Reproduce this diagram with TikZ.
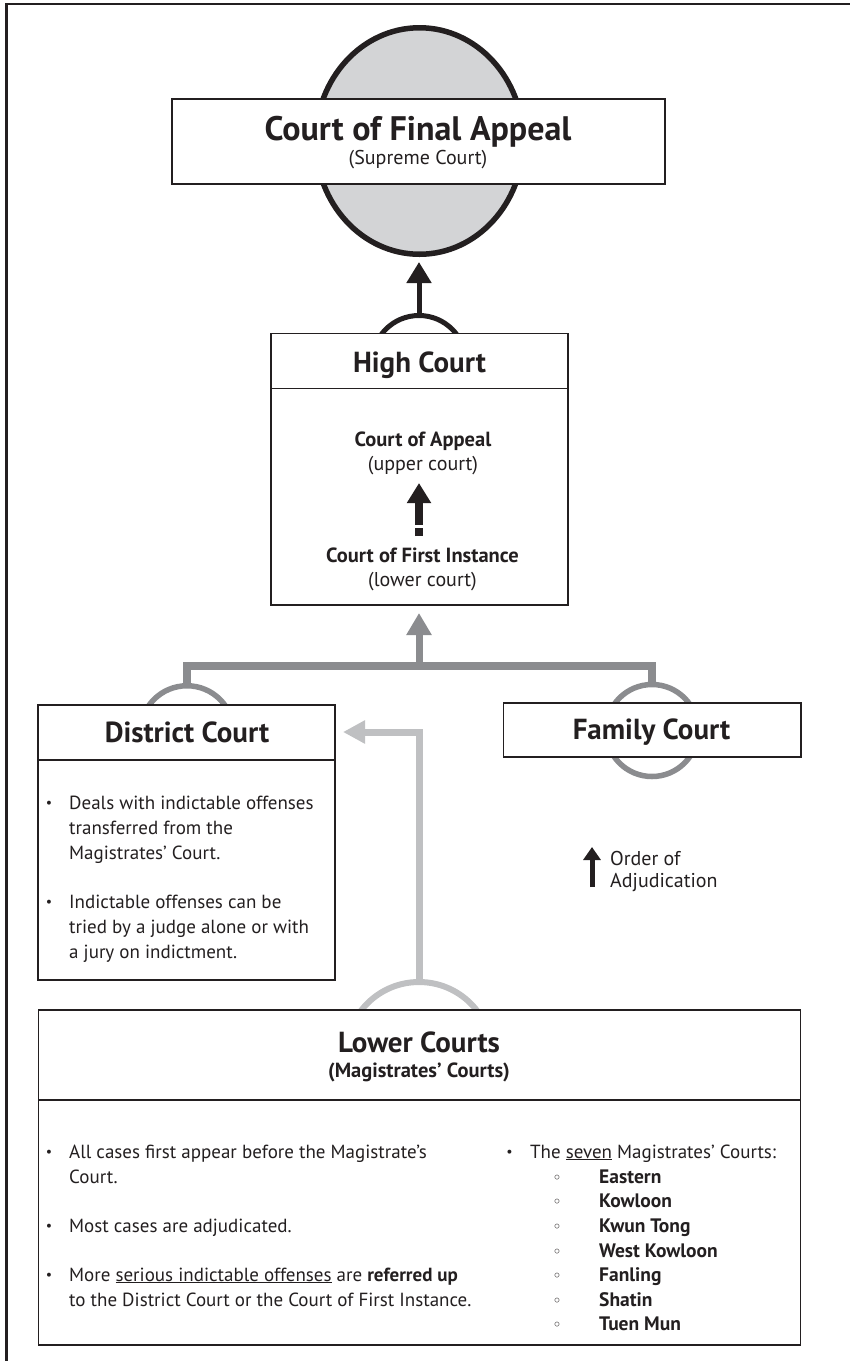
\documentclass[tikz,border=0pt]{standalone}
\usepackage{fontspec}
\setmainfont{PT Sans}
\newfontfamily\symfont{DejaVu Sans}
\usetikzlibrary{arrows.meta,shapes.geometric}
\definecolor{ink}{HTML}{231F20}
\definecolor{midgray}{HTML}{8B8C8F}
\definecolor{lightgraytwo}{HTML}{BFC0C2}
\definecolor{ellfill}{HTML}{D3D4D6}
\begin{document}
\begin{tikzpicture}[x=1pt,y=-1pt,
  box/.style={draw=ink, line width=1.4pt, fill=white, rectangle, inner sep=0pt, outer sep=0pt},
  ring/.style={circle, inner sep=0pt, fill=none},
  headtxt/.style={font=\fontsize{29}{32}\selectfont\bfseries, text=ink, anchor=base, inner sep=0pt},
  subtxt/.style={font=\fontsize{20}{24}\selectfont, text=ink, anchor=base, inner sep=0pt},
  subbold/.style={font=\fontsize{20.5}{24}\selectfont\bfseries, text=ink, anchor=base, inner sep=0pt},
  body/.style={font=\fontsize{19}{24.7}\selectfont, text=ink, anchor=base west, inner sep=0pt},
  bodybold/.style={font=\fontsize{19.5}{24.7}\selectfont\bfseries, text=ink, anchor=base west, inner sep=0pt},
  bul/.style={font=\fontsize{14}{24.7}\selectfont, text=ink, anchor=base, inner sep=0pt},
  sbul/.style={font=\fontsize{16}{24.7}\selectfont\symfont, text=ink, anchor=base, inner sep=0pt},
]
\useasboundingbox (0,0) rectangle (850,1361);
% frame
\draw[ink, line width=2.6pt] (6.3,1361) -- (6.3,4) -- (850,4);

% rings
\node[ellipse, draw=ink, fill=ellfill, line width=5.5pt, minimum width=207.5pt, minimum height=226.5pt, inner sep=0pt] (cfae) at (419.5,141) {};
\node[ring, draw=ink, line width=5pt, minimum size=94pt] (hcc) at (419,362.5) {};
\node[ring, draw=midgray, line width=5.5pt, minimum size=93.5pt] (dcc) at (187,732.5) {};
\node[ring, draw=midgray, line width=5.5pt, minimum size=92pt] (fcc) at (652,730.5) {};
\node[ring, draw=lightgraytwo, line width=6pt, minimum size=146pt] (lcc) at (419,1055) {};

% boxes
\node[box, minimum width=493pt, minimum height=85pt] (cfab) at (418.5,141.5) {};
\node[box, minimum width=297pt, minimum height=271.5pt] (hcb) at (419.5,469.25) {};
\node[box, minimum width=297pt, minimum height=275pt] (dcb) at (186.5,842.5) {};
\node[box, minimum width=297.5pt, minimum height=54pt] (fcb) at (652.25,730) {};
\node[box, minimum width=762pt, minimum height=335pt] (lcb) at (419.5,1177.5) {};

% dividers
\coordinate (hdiv) at (0,388.5);
\coordinate (ddiv) at (0,760);
\coordinate (ldiv) at (0,1100);
\draw[ink, line width=1.4pt] (hcb.west |- hdiv) -- (hcb.east |- hdiv);
\draw[ink, line width=1.4pt] (dcb.west |- ddiv) -- (dcb.east |- ddiv);
\draw[ink, line width=1.4pt] (lcb.west |- ldiv) -- (lcb.east |- ldiv);

% connectors
\draw[ink, line width=5pt, -{Triangle[width=24pt,length=21pt]}, shorten >=5pt] (hcc.north) -- (hcc.north |- cfae.south);
\coordinate (jn) at (419,666);
\draw[midgray, line width=7.5pt, line join=miter] (dcc.north) |- (jn) -| (fcc.north);
\draw[midgray, line width=7pt, -{Triangle[width=24pt,length=22pt]}, shorten >=8pt] (jn) -- (jn |- hcb.south);
\coordinate (lgturn) at (419,732);
\draw[lightgraytwo, line width=7pt, line join=miter, -{Triangle[width=22pt,length=22pt]}, shorten >=8pt] (lcc.north) -- (lgturn) -- (lgturn -| dcb.east);
% inner dashed arrow
\coordinate (hab) at (419,536);
\coordinate (hat) at (419,483);
\draw[ink, line width=7.7pt, dash pattern=on 8pt off 3pt on 60pt, -{Triangle[width=23pt,length=20pt]}] (hab) -- (hat);
% legend arrow
\coordinate (ob) at (592,887);
\coordinate (ot) at (592,847);
\draw[ink, line width=5pt, -{Triangle[width=17pt,length=13pt]}] (ob) -- (ot);

% texts
\node[headtxt, font=\fontsize{34}{38}\selectfont\bfseries] (tcfa) at (418,140) {Court of Final Appeal};
\node[subtxt] (tsup) at (418,164) {(Supreme Court)};
\node[headtxt] (thc) at (419.5,372) {High Court};
\node[subbold] (tcoa) at (423,446) {Court of Appeal};
\node[subtxt] (tup) at (423,470) {(upper court)};
\node[subbold] (tcfi) at (422.5,562) {Court of First Instance};
\node[subtxt] (tlow) at (422.5,586) {(lower court)};
\node[headtxt] (tdc) at (187,742) {District Court};
\node[headtxt] (tfc) at (651.5,739) {Family Court};
\node[headtxt] (tlc) at (419,1052) {Lower Courts};
\node[subbold] (tmc) at (419,1077) {(Magistrates’ Courts)};

\node[body, font=\fontsize{20}{24}\selectfont] (tord1) at (610,865.5) {Order of};
\node[body, font=\fontsize{20}{24}\selectfont] (tord2) at (610,887) {Adjudication};

% district bullets
\node[bul] (db1) at (49,807.5) {\textbullet};
\node[body] (dl1) at (69,809) {Deals with indictable offenses};
\node[body] (dl2) at (69,834) {transferred from the};
\node[body] (dl3) at (69,859) {Magistrates’ Court.};
\node[bul] (db2) at (49,906.5) {\textbullet};
\node[body] (dl4) at (69,908) {Indictable offenses can be};
\node[body] (dl5) at (69,933) {tried by a judge alone or with};
\node[body] (dl6) at (69,958) {a jury on indictment.};

% lower courts bullets
\node[bul] (lb1) at (49,1156.5) {\textbullet};
\node[body] (ll1) at (69,1158) {All cases first appear before the Magistrate’s};
\node[body] (ll2) at (69,1183) {Court.};
\node[bul] (lb2) at (49,1230.5) {\textbullet};
\node[body] (ll3) at (69,1232) {Most cases are adjudicated.};
\node[bul] (lb3) at (49,1279.5) {\textbullet};
\node[body] (ll4) at (69,1281) {More \underline{serious indictable offenses} are \textbf{referred up}};
\node[body] (ll5) at (69,1306) {to the District Court or the Court of First Instance.};

\node[bul] (rb) at (509.5,1156.5) {\textbullet};
\node[body] (rl) at (530,1158) {The \underline{seven} Magistrates’ Courts:};
\node[sbul] (s1) at (557,1183) {◦};
\node[bodybold] (c1) at (599,1183) {Eastern};
\node[sbul] (s2) at (557,1207.5) {◦};
\node[bodybold] (c2) at (599,1207.5) {Kowloon};
\node[sbul] (s3) at (557,1232) {◦};
\node[bodybold] (c3) at (599,1232) {Kwun Tong};
\node[sbul] (s4) at (557,1257) {◦};
\node[bodybold] (c4) at (599,1257) {West Kowloon};
\node[sbul] (s5) at (557,1281) {◦};
\node[bodybold] (c5) at (599,1281) {Fanling};
\node[sbul] (s6) at (557,1306) {◦};
\node[bodybold] (c6) at (599,1306) {Shatin};
\node[sbul] (s7) at (557,1330) {◦};
\node[bodybold] (c7) at (599,1330) {Tuen Mun};
\end{tikzpicture}
\end{document}
